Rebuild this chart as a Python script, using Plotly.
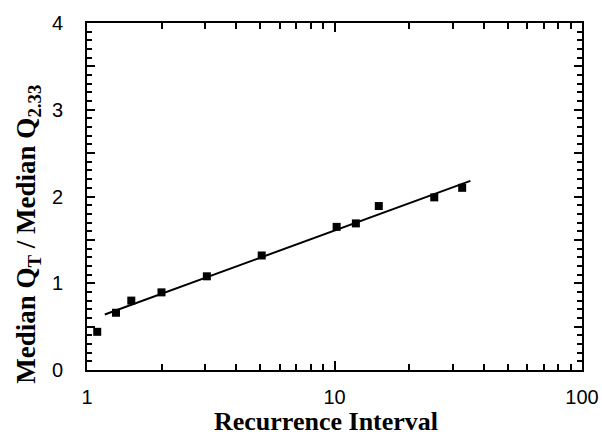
import plotly.graph_objects as go

recurrence = [1.1, 1.31, 1.51, 2.0, 3.05, 5.08, 10.2, 12.2, 15.1, 25.3, 32.8]
ratio = [0.44, 0.66, 0.80, 0.895, 1.08, 1.32, 1.65, 1.69, 1.89, 1.99, 2.10]
fit_x = [1.18, 35.4]
fit_y = [0.64, 2.18]

x_major = [1, 10, 100]
x_minor = [2, 3, 4, 5, 6, 7, 8, 9, 20, 30, 40, 50, 60, 70, 80, 90]
y_major = [0, 0.5, 1, 1.5, 2, 2.5, 3, 3.5, 4]
y_labels = ["0", "", "1", "", "2", "", "3", "", "4"]
y_minor = [round(i * 0.1, 1) for i in range(41) if i % 5 != 0]

x_title = "<b>Recurrence Interval</b>"
y_title = "<b>Median Q<sub>T</sub> / Median Q<sub>2.33</sub></b>"

fig = go.Figure()
fig.add_trace(go.Scatter(x=fit_x, y=fit_y, mode="lines",
                         line=dict(color="black", width=2), showlegend=False))
fig.add_trace(go.Scatter(x=recurrence, y=ratio, mode="markers",
                         marker=dict(symbol="square", size=8, color="black"),
                         showlegend=False))

tickfont = dict(family="Liberation Sans, Arial", size=20, color="black")
xtitlefont = dict(family="Liberation Serif, Times New Roman", size=26, color="black")
ytitlefont = dict(family="Liberation Serif, Times New Roman", size=27, color="black")

fig.update_layout(
    width=602, height=439,
    margin=dict(l=87, r=20, t=23, b=69),
    plot_bgcolor="white", paper_bgcolor="white",
    xaxis=dict(
        type="log", range=[0, 2], automargin=False,
        tickmode="array", tickvals=x_major, ticktext=[str(v) for v in x_major],
        ticks="inside", ticklen=9, tickwidth=1.5, tickcolor="black",
        minor=dict(tickmode="array", tickvals=x_minor, ticks="inside", ticklen=6,
                   tickwidth=1.5, tickcolor="black", showgrid=False),
        showline=True, linecolor="black", linewidth=2, mirror="ticks",
        showgrid=False, zeroline=False,
        tickfont=tickfont, ticklabelstandoff=8,
    ),
    yaxis=dict(
        range=[0, 4], automargin=False,
        tickmode="array", tickvals=y_major, ticktext=y_labels,
        ticks="inside", ticklen=8, tickwidth=1.5, tickcolor="black",
        minor=dict(tickmode="array", tickvals=y_minor, ticks="inside", ticklen=5,
                   tickwidth=1.5, tickcolor="black", showgrid=False),
        showline=True, linecolor="black", linewidth=2, mirror="ticks",
        showgrid=False, zeroline=False,
        tickfont=tickfont, ticklabelstandoff=18,
    ),
    annotations=[
        dict(text=x_title, xref="paper", yref="paper", x=0.483, y=-0.147,
             xanchor="center", yanchor="middle", showarrow=False, font=xtitlefont),
        dict(text=y_title, xref="paper", yref="paper", x=-0.119, y=0.39,
             xanchor="center", yanchor="middle", showarrow=False, textangle=-90,
             font=ytitlefont),
    ],
)

fig.write_html("out.html", config={"displayModeBar": False},
               post_script="document.body.style.margin='0';")
